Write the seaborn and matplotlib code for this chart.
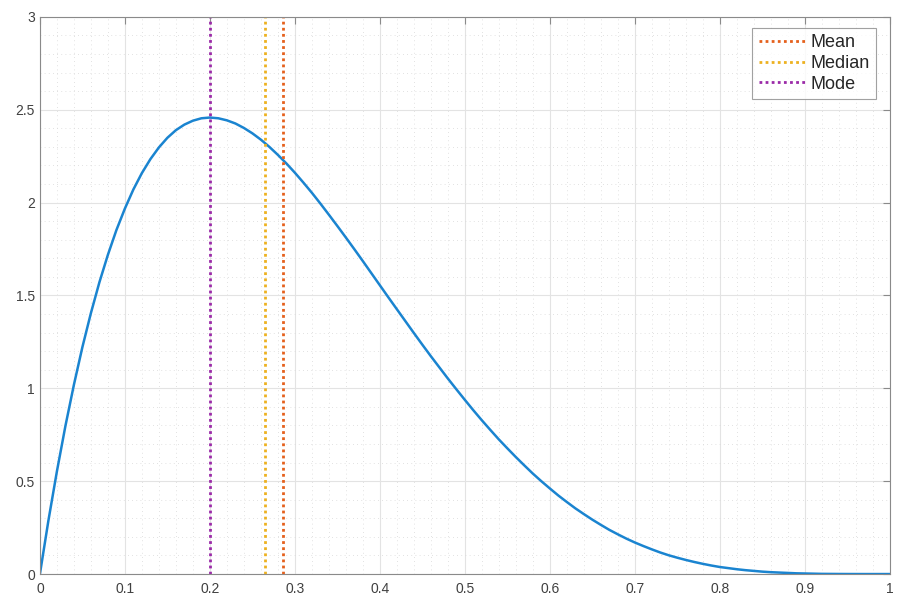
import matplotlib.pyplot as plt
import numpy as np
import pandas as pd
import seaborn as sns
from matplotlib.ticker import AutoMinorLocator

# Density curve (x step 0.01).
x_vals = np.linspace(0, 1, 101)
density = [
    0.0, 0.288, 0.553, 0.797, 1.019, 1.222, 1.405, 1.571, 1.719, 1.852,
    1.968, 2.071, 2.159, 2.234, 2.297, 2.349, 2.390, 2.420, 2.441, 2.454,
    2.458, 2.454, 2.443, 2.426, 2.402, 2.373, 2.339, 2.300, 2.257, 2.211,
    2.161, 2.108, 2.053, 1.995, 1.935, 1.874, 1.812, 1.749, 1.685, 1.620,
    1.555, 1.490, 1.426, 1.362, 1.298, 1.235, 1.173, 1.113, 1.053, 0.995,
    0.938, 0.882, 0.828, 0.776, 0.725, 0.677, 0.630, 0.585, 0.541, 0.500,
    0.461, 0.423, 0.388, 0.354, 0.323, 0.293, 0.265, 0.238, 0.214, 0.191,
    0.170, 0.151, 0.133, 0.116, 0.101, 0.088, 0.076, 0.065, 0.055, 0.046,
    0.038, 0.032, 0.026, 0.021, 0.017, 0.013, 0.010, 0.008, 0.006, 0.004,
    0.003, 0.002, 0.001, 0.0007, 0.0004, 0.0002, 0.0001, 0.0, 0.0, 0.0, 0.0,
]

stat_names = ["Mean", "Median", "Mode"]
stat_values = [0.2857, 0.2644, 0.2]
stat_colors = ["#E5601C", "#EDB120", "#9B2AA8"]

sns.set_style("white")
plt.rcParams["font.family"] = ["Liberation Sans", "DejaVu Sans"]

fig = plt.figure(figsize=(9.07, 6.03), dpi=100)
ax = fig.add_axes([0.044, 0.048, 0.937, 0.924])

df = pd.DataFrame({"x": x_vals, "y": density})
sns.lineplot(data=df, x="x", y="y", ax=ax, color="#1A84D0", linewidth=1.8)

for name, val, col in zip(stat_names, stat_values, stat_colors):
    ax.axvline(val, color=col, linestyle=(0, (1, 1.2)), linewidth=2, label=name)

ax.set_xlim(0, 1)
ax.set_ylim(0, 3)
ax.set_xticks(np.arange(0, 1.01, 0.1))
ax.set_xticklabels(["0", "0.1", "0.2", "0.3", "0.4", "0.5", "0.6", "0.7", "0.8", "0.9", "1"])
ax.set_yticks(np.arange(0, 3.01, 0.5))
ax.set_yticklabels(["0", "0.5", "1", "1.5", "2", "2.5", "3"])
ax.xaxis.set_minor_locator(AutoMinorLocator(5))
ax.yaxis.set_minor_locator(AutoMinorLocator(5))
ax.grid(True, which="major", color="#e3e3e3", linewidth=0.8)
ax.grid(True, which="minor", color="#d8d8d8", linestyle=(0, (1, 4)), linewidth=0.6)
ax.set_axisbelow(True)
ax.set_xlabel("")
ax.set_ylabel("")

for spine in ax.spines.values():
    spine.set_color("#8a8a8a")
    spine.set_linewidth(0.8)
ax.tick_params(which="major", direction="in", length=5, color="#8a8a8a",
               labelsize=10, labelcolor="#404040", top=True, right=True)
ax.tick_params(which="minor", length=0)
ax.tick_params(axis="x", pad=6)

leg = ax.legend(loc="upper right", fontsize=13, frameon=True, fancybox=False,
                handlelength=2.6, handletextpad=0.3, borderpad=0.35,
                labelspacing=0.2, bbox_to_anchor=(0.995, 0.996))
leg.get_frame().set_edgecolor("#8a8a8a")
leg.get_frame().set_linewidth(0.8)

fig.savefig("out.png", dpi=100)
